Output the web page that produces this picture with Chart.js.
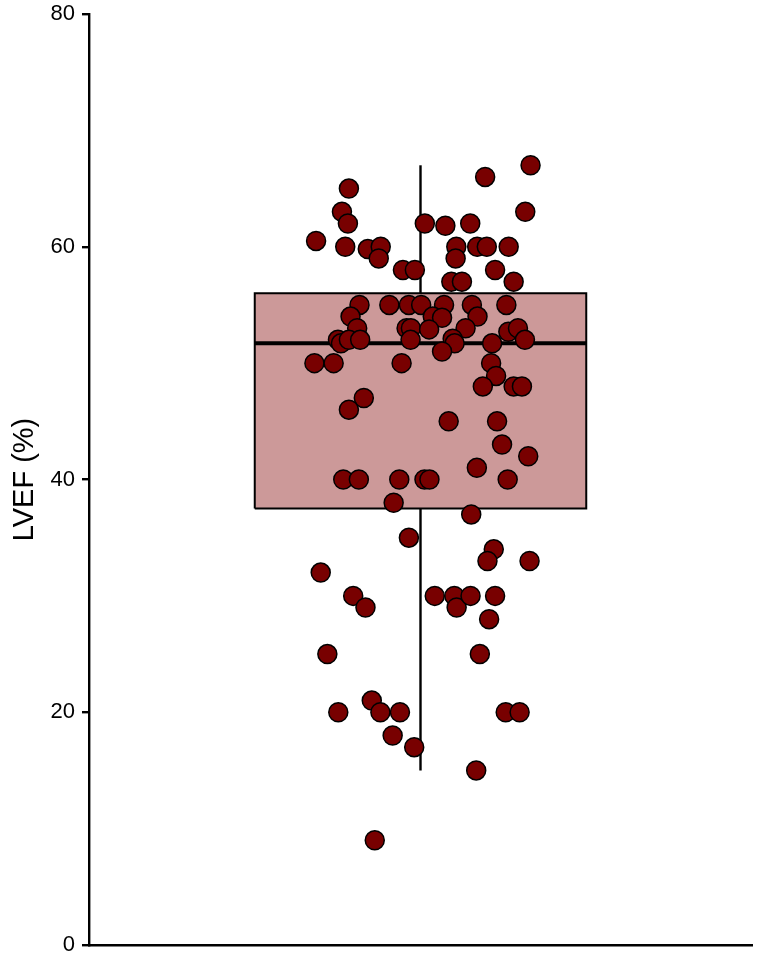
<!DOCTYPE html>
<html>
<head>
<meta charset="utf-8">
<title>LVEF</title>
<script src="https://cdn.jsdelivr.net/npm/chart.js@4.4.1/dist/chart.umd.min.js"></script>
<style>
  html, body { margin: 0; padding: 0; background: #fff; }
  #wrap { width: 768px; height: 960px; position: relative; }
</style>
</head>
<body>
<div id="wrap"><canvas id="boxChart"></canvas></div>
<script>
// values
const yTicks = [0, 20, 40, 60, 80];
// box summary: lower whisker, Q1, median, Q3, upper whisker
const boxStats = [15, 37.5, 51.7, 56, 67];
// horizontal jitter of each point (box spans -0.5 .. 0.5)
const jitterX = [
  0.332, 0.195, -0.216, -0.237, 0.316, -0.219, 0.013, 0.075, 0.150, -0.315,
  -0.227, -0.159, -0.120, -0.126, 0.108, 0.106, 0.171, 0.200, 0.266, -0.053,
  -0.017, 0.225, 0.093, 0.125, 0.281, -0.184, -0.094, -0.035, 0.002, 0.071,
  0.155, 0.259, -0.211, 0.037, 0.065, 0.172, -0.191, -0.042, -0.029, 0.026,
  0.136, 0.265, 0.294, -0.249, -0.240, -0.216, -0.182, -0.030, 0.097, 0.103,
  0.216, 0.315, 0.065, -0.320, -0.262, -0.057, 0.213, 0.228, 0.188, 0.281,
  0.306, -0.171, -0.216, 0.085, 0.231, 0.246, 0.325, 0.170, -0.233, -0.186,
  -0.064, 0.012, 0.027, 0.263, -0.081, 0.153, -0.035, 0.221, 0.202, 0.329,
  -0.301, -0.203, -0.166, 0.043, 0.102, 0.109, 0.151, 0.225, 0.207, -0.281,
  0.179, -0.147, -0.248, -0.121, -0.062, 0.257, 0.299, -0.084, -0.019, 0.168,
  -0.138
];
const lvef = [
  67, 66, 65, 63, 63, 62, 62, 61.8, 62, 60.5,
  60, 59.8, 60, 59, 60, 59, 60, 60, 60, 58,
  58, 58, 57, 57, 57, 55, 55, 55, 55, 55,
  55, 55, 54, 54, 53.9, 54, 53, 53, 53, 52.9,
  53, 52.7, 53, 52, 51.7, 52, 52, 52, 52.1, 51.7,
  51.7, 52, 51, 50, 50, 50, 50, 48.9, 48, 48,
  48, 47, 46, 45, 45, 43, 42, 41, 40, 40,
  40, 40, 40, 40, 38, 37, 35, 34, 33, 33,
  32, 30, 29, 30, 30, 29, 30, 30, 28, 25,
  25, 21, 20, 20, 20, 20, 20, 18, 17, 15,
  9
];

document.addEventListener('DOMContentLoaded', () => {
  const [lo, q1, med, q3, hi] = boxStats;
  const points = lvef.map((v, i) => ({ x: jitterX[i], y: v }));

  const ctx = document.getElementById('boxChart').getContext('2d');
  new Chart(ctx, {
    type: 'scatter',
    data: {
      datasets: [
        {
          label: 'LVEF',
          data: points,
          order: 0,
          pointRadius: 9.5,
          pointHoverRadius: 9.5,
          pointBackgroundColor: '#780000',
          pointBorderColor: '#000',
          pointBorderWidth: 1.5
        },
        {
          label: 'median',
          data: [{ x: -0.5, y: med }, { x: 0.5, y: med }],
          order: 1,
          showLine: true,
          pointRadius: 0,
          borderColor: '#000',
          borderWidth: 4
        },
        {
          label: 'box',
          data: [{ x: -0.5, y: q1 }, { x: 0.5, y: q1 }, { x: 0.5, y: q3 }, { x: -0.5, y: q3 }, { x: -0.5, y: q1 }],
          order: 2,
          showLine: true,
          pointRadius: 0,
          borderColor: '#000',
          borderWidth: 2,
          backgroundColor: 'rgba(128,0,0,0.4)',
          fill: 'shape'
        },
        {
          label: 'whisker low',
          data: [{ x: 0, y: lo }, { x: 0, y: q1 }],
          order: 3,
          showLine: true,
          pointRadius: 0,
          borderColor: '#000',
          borderWidth: 2.4
        },
        {
          label: 'whisker high',
          data: [{ x: 0, y: q3 }, { x: 0, y: hi }],
          order: 3,
          showLine: true,
          pointRadius: 0,
          borderColor: '#000',
          borderWidth: 2.4
        }
      ]
    },
    options: {
      responsive: true,
      maintainAspectRatio: false,
      animation: false,
      layout: { padding: { top: 14, right: 16, bottom: 15, left: 0 } },
      scales: {
        x: {
          type: 'linear',
          min: -1,
          max: 1,
          ticks: { display: false },
          grid: { display: false },
          border: { display: true, color: '#000', width: 2.4 },
          afterFit: s => { s.height = 0; }
        },
        y: {
          min: 0,
          max: 80,
          afterBuildTicks: s => { s.ticks = yTicks.map(v => ({ value: v })); },
          ticks: {
            color: '#000',
            padding: 7,
            font: { family: 'Liberation Sans', size: 22, lineHeight: 0.6 }
          },
          grid: { drawOnChartArea: false, drawTicks: true, tickLength: 7, color: '#000', lineWidth: 2.4 },
          border: { display: true, color: '#000', width: 2.4 },
          title: {
            display: true,
            text: 'LVEF (%)',
            color: '#000',
            padding: { top: 8, bottom: 0 },
            font: { family: 'Liberation Sans', size: 29 }
          },
          afterFit: s => { s.width = 89; }
        }
      },
      plugins: {
        legend: { display: false },
        tooltip: { enabled: false }
      }
    }
  });
});
</script>
</body>
</html>
